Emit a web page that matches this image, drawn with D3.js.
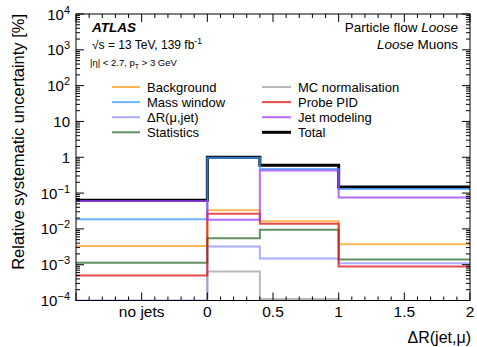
<!DOCTYPE html>
<html>
<head>
<meta charset="utf-8">
<script src="https://cdn.jsdelivr.net/npm/d3@7"></script>
<style>
body{margin:0;background:#fff;}
svg{display:block;font-family:"Liberation Sans",Arial,sans-serif;}
</style>
</head>
<body>
<svg id="chart" width="477" height="347"></svg>
<script>
// bin edges in dR(jet,mu); the first bin [-1,0] is the "no jets" bin
var binEdges=[-1,0,0.4,1,2];
var xTicks=[-0.5,0,0.5,1,1.5,2];
var xTickLabels=["no jets","0","0.5","1","1.5","2"];
var yDecades=[-4,-3,-2,-1,0,1,2,3,4];

// relative uncertainties [%] per bin
var background=[0.0033,0.033,0.0162,0.0037];
var massWindow=[0.0187,0.97,0.47,0.13];
var deltaR=[0.0001,0.0032,0.0015,0.0011];
var statistics=[0.00113,0.0055,0.0095,0.0014];
var mcNorm=[0,0.00065,0.00011,0];
var probePID=[0.0005,0.0266,0.014,0.00089];
var jetModeling=[0.06,0.018,0.43,0.075];
var total=[0.063,1.0,0.6,0.148];

var series=[
    {name:"Total",values:total,color:"#000000",w:3,op:1},
    {name:"Background",values:background,color:"#ff9d1c",w:2,op:0.75},
    {name:"Mass window",values:massWindow,color:"#3d9cff",w:2,op:0.75},
    {name:"\u0394R(\u03bc,jet)",values:deltaR,color:"#8f8fff",w:2,op:0.75},
    {name:"Statistics",values:statistics,color:"#2c6a2c",w:2,op:0.75},
    {name:"MC normalisation",values:mcNorm,color:"#a0a0a0",w:2,op:0.75},
    {name:"Probe PID",values:probePID,color:"#e01010",w:2,op:0.75},
    {name:"Jet modeling",values:jetModeling,color:"#9a3cff",w:2,op:0.75}
];
var legendCol1=["Background","Mass window","\u0394R(\u03bc,jet)","Statistics"];
var legendCol2=["MC normalisation","Probe PID","Jet modeling","Total"];

var L=76,R=470,T=14,B=300.5;
var svg=d3.select("#chart");

var x=d3.scaleLinear().domain([-1,2]).range([L,R]);
var y=d3.scaleLog().domain([1e-4,1e4]).range([B,T]);

svg.append("clipPath").attr("id","frameclip").append("rect")
    .attr("x",L).attr("y",T).attr("width",R-L).attr("height",B-T);

// histograms
var line=d3.line().curve(d3.curveStepAfter)
    .x(function(d){return x(d[0]);})
    .y(function(d){return y(Math.max(d[1],1e-6));});

var gh=svg.append("g").attr("clip-path","url(#frameclip)");
series.forEach(function(s){
    var pts=s.values.map(function(v,i){return [binEdges[i],v];});
    pts.push([binEdges[binEdges.length-1],s.values[s.values.length-1]]);
    gh.append("path").attr("d",line(pts))
        .attr("fill","none").attr("stroke",s.color)
        .attr("stroke-width",s.w).attr("stroke-opacity",s.op);
});

// ticks (inward, mirrored)
var gt=svg.append("g").attr("stroke","#000").attr("stroke-width",1);
yDecades.forEach(function(e){
    var yy=y(Math.pow(10,e));
    gt.append("line").attr("x1",L).attr("x2",L+8).attr("y1",yy).attr("y2",yy);
    gt.append("line").attr("x1",R).attr("x2",R-8).attr("y1",yy).attr("y2",yy);
    if(e<4){
        for(var k=2;k<10;k++){
            var ym=y(k*Math.pow(10,e));
            gt.append("line").attr("x1",L).attr("x2",L+4).attr("y1",ym).attr("y2",ym);
            gt.append("line").attr("x1",R).attr("x2",R-4).attr("y1",ym).attr("y2",ym);
        }
    }
});
d3.range(-10,21).forEach(function(i){
    var v=i/10;
    var major=(i%5===0);
    var len=major?8:4;
    var xx=x(v);
    gt.append("line").attr("x1",xx).attr("x2",xx).attr("y1",B).attr("y2",B-len);
    gt.append("line").attr("x1",xx).attr("x2",xx).attr("y1",T).attr("y2",T+len);
});

// frame
svg.append("rect").attr("x",L).attr("y",T).attr("width",R-L).attr("height",B-T)
    .attr("fill","none").attr("stroke","#000").attr("stroke-width",1);

// y tick labels
yDecades.forEach(function(e){
    var t=svg.append("text").attr("x",70).attr("y",y(Math.pow(10,e))+5.5)
        .attr("text-anchor","end").attr("font-size",15);
    if(e===0){t.text("1");}
    else if(e===1){t.text("10");}
    else{
        t.append("tspan").text("10");
        t.append("tspan").attr("dy",-6).attr("font-size",11)
            .text(e<0?"\u2212"+(-e):String(e));
    }
});

// x tick labels
xTicks.forEach(function(v,i){
    svg.append("text").attr("x",x(v)).attr("y",317)
        .attr("text-anchor","middle").attr("font-size",15.5)
        .text(xTickLabels[i]);
});

// axis titles
svg.append("text").attr("transform","translate(24,14) rotate(-90)")
    .attr("text-anchor","end").attr("font-size",16.5)
    .text("Relative systematic uncertainty [%]");
svg.append("text").attr("x",471).attr("y",343).attr("text-anchor","end")
    .attr("font-size",16).text("\u0394R(jet,\u03bc)");

// labels
svg.append("text").attr("x",92).attr("y",31.5).attr("font-size",13.5)
    .attr("font-weight","bold").attr("font-style","italic").text("ATLAS");
var sq=svg.append("text").attr("x",92).attr("y",49).attr("font-size",12);
sq.append("tspan").text("\u221as = 13 TeV, 139 fb");
sq.append("tspan").attr("dy",-5).attr("font-size",8.5).text("-1");
var eta=svg.append("text").attr("x",90).attr("y",65.5).attr("font-size",9.5);
eta.append("tspan").text("|\u03b7| < 2.7, p");
eta.append("tspan").attr("dy",3).attr("font-size",7).text("T");
eta.append("tspan").attr("dy",-3).text(" > 3 GeV");

var pf=svg.append("text").attr("x",458).attr("y",31.5).attr("font-size",13.5).attr("text-anchor","end");
pf.append("tspan").text("Particle flow ");
pf.append("tspan").attr("font-style","italic").text("Loose");
var lm=svg.append("text").attr("x",458).attr("y",49).attr("font-size",13.5).attr("text-anchor","end");
lm.append("tspan").attr("font-style","italic").text("Loose");
lm.append("tspan").text(" Muons");

// legend
function legendCol(names,x1,x2,tx){
    names.forEach(function(n,i){
        var s=series.filter(function(d){return d.name===n;})[0];
        var yy=87+i*15.1;
        svg.append("line").attr("x1",x1).attr("x2",x2).attr("y1",yy).attr("y2",yy)
            .attr("stroke",s.color).attr("stroke-width",s.w).attr("stroke-opacity",s.op);
        svg.append("text").attr("x",tx).attr("y",yy+4.5).attr("font-size",13).text(n);
    });
}
legendCol(legendCol1,112,140,147);
legendCol(legendCol2,262,291,298);
</script>
</body>
</html>
